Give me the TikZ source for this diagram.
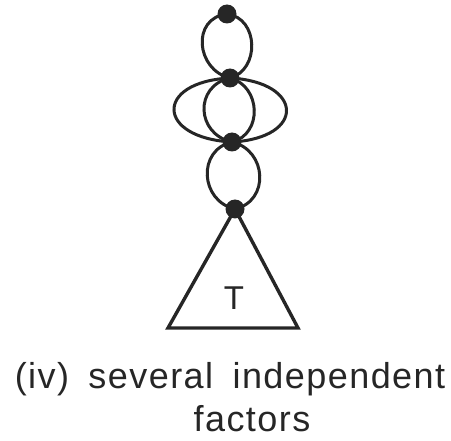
\documentclass[tikz,border=0pt]{standalone}
\usepackage{fontspec}
\setmainfont{Liberation Sans}
\newfontfamily\capfont[LetterSpace=4,WordSpace=1.7]{Liberation Sans}
\begin{document}
\begin{tikzpicture}[x=1pt,y=-1pt,
  dot/.style={circle,fill=black!85,inner sep=0pt,minimum size=19pt},
  lensline/.style={line width=3pt,draw=black!85},
  tri/.style={line width=3.4pt,draw=black!85,line join=miter},
  captext/.style={font=\capfont\fontsize{36}{40}\selectfont,text=black!85,inner sep=0pt,anchor=base}]
\useasboundingbox (0,0) rectangle (451,441);
\node[dot] (d1) at (227,14) {};
\node[dot] (d2) at (230,78) {};
\node[dot] (d3) at (232,142) {};
\node[dot] (d4) at (235,209) {};
% top lens
\draw[lensline] (d1.center) .. controls +(-36,4) and +(-34,-8) .. (d2.center);
\draw[lensline] (d1.center) .. controls +(32,4) and +(30,-8) .. (d2.center);
% middle inner lens
\draw[lensline] (d2.center) .. controls +(-36,8) and +(-36,-8) .. (d3.center);
\draw[lensline] (d2.center) .. controls +(31,8) and +(31,-8) .. (d3.center);
% middle outer lens
\draw[lensline] (d2.center) .. controls +(-76,4) and +(-76,-4) .. (d3.center);
\draw[lensline] (d2.center) .. controls +(74,4) and +(74,-4) .. (d3.center);
% lower lens
\draw[lensline] (d3.center) .. controls +(-35,8) and +(-35,-8) .. (d4.center);
\draw[lensline] (d3.center) .. controls +(35,8) and +(35,-8) .. (d4.center);
% triangle
\coordinate (bl) at (168,328);
\coordinate (br) at (298,328);
\draw[tri] (d4.center) -- (bl) -- (br) -- cycle;
\node[font=\fontsize{33}{36}\selectfont,text=black!85,inner sep=0pt,anchor=base] (t) at (234,310) {T};
\node[captext] (c1) at (230,389) {(iv) several independent};
\node[captext] (c2) at (252,432) {factors};
\end{tikzpicture}
\end{document}
